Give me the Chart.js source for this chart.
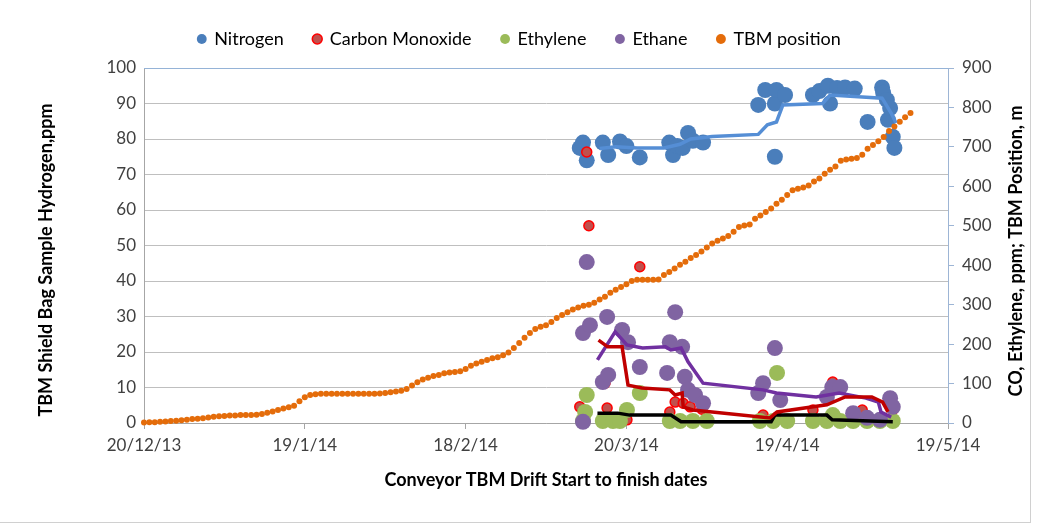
<!DOCTYPE html>
<html>
<head>
<meta charset="utf-8">
<script src="https://cdn.jsdelivr.net/npm/chart.js@4.4.1/dist/chart.umd.min.js"></script>
<style>
  body { margin: 0; background: #fff; }
  #wrap { position: relative; width: 1039px; height: 529px; }
  #frame { position: absolute; left: 0; top: 0; width: 1030px; height: 522px;
           border-right: 1px solid #d0d0d0; border-bottom: 1px solid #d0d0d0; pointer-events: none; }
</style>
</head>
<body>
<div id="wrap">
  <canvas id="gasChart" width="1039" height="529"></canvas>
  <div id="frame"></div>
</div>
<script>
// x values are days after 20/12/13
const n2Days = [81.3, 81.9, 82.6, 85.6, 86.6, 88.8, 90, 92.5, 98, 98.7, 99.5, 100.5, 101.5, 102.4, 104.3,
  114.6, 115.9, 117.7, 117.7, 118, 119.6, 124.8, 126, 127.6, 128, 129.3, 130.8, 132.6, 135, 137.7, 137.9,
  138.6, 138.8, 139.2, 139.7, 140];
const n2Ppm = [77.5, 79, 74, 79, 75.5, 79.3, 78, 74.8, 79, 75.5, 78, 77.5, 81.7, 79.5, 79,
  89.6, 93.8, 75, 90, 93.8, 92.4, 92.4, 93.5, 95, 90, 94.4, 94.5, 94.2, 84.8, 94.5, 93,
  91, 85.4, 88.7, 80.6, 77.5];

const coDays = [81.3, 82.6, 83, 86, 86.4, 90.1, 92.5, 98.1, 99.1, 100.6, 101.9, 104.1, 115.5, 118.1,
  124.8, 128.5, 129.9, 134, 139.7];
const coPpm = [41, 687, 500, 101, 38, 8, 396, 28, 53, 50, 41, 35, 20, 15, 33, 104, 89, 33, 33];

const ethyleneDays = [82.6, 82.3, 81.9, 85.6, 87.5, 88.8, 90.1, 92.5, 98.1, 100, 102.4, 105, 114.9, 117.4,
  118.1, 120, 124.8, 127.4, 128.5, 129.9, 132.3, 134.9, 137.3, 139.7];
const ethylenePpm = [71, 28, 5, 5, 5, 5, 33, 76, 5, 5, 5, 5, 5, 5, 127, 5, 5, 5, 20, 5, 5, 5, 5, 5];

const ethaneDays = [82.6, 81.9, 83.2, 86.4, 89.2, 90.3, 92.5, 85.6, 86.6, 81.9, 99.1, 98.1, 100.4, 97.6,
  100.9, 101.5, 102.8, 104.3, 117.7, 115.5, 114.6, 118.7, 127.4, 128.4, 129.9, 132.3, 134.9, 137.3,
  139.2, 139.7];
const ethanePpm = [408, 228, 248, 269, 236, 205, 142, 104, 122, 3, 281, 205, 193, 127, 117, 84, 71, 50,
  190, 101, 76, 58, 66, 91, 91, 25, 13, 8, 63, 41];

// TBM position, m, one reading per day from 20/12/13
const tbmPos = [1, 2, 2, 3, 4, 5, 6, 7, 8, 10, 11, 12, 14, 16, 17, 18, 19, 19, 20, 20,
  20, 21, 23, 26, 29, 33, 37, 40, 44, 55, 65, 71, 73, 74, 74, 74, 74, 74, 74, 74,
  74, 74, 74, 74, 75, 76, 78, 80, 82, 86, 95, 103, 110, 115, 119, 122, 126, 128, 129, 131,
  137, 145, 151, 155, 160, 164, 167, 172, 179, 190, 203, 216, 228, 238, 244, 248, 256, 266, 274, 281,
  288, 293, 297, 300, 305, 313, 320, 330, 338, 345, 352, 360, 363, 363, 363, 363, 364, 375, 383, 392,
  401, 409, 418, 426, 435, 445, 455, 462, 468, 474, 485, 497, 501, 503, 518, 526, 535, 544, 556, 566,
  578, 590, 594, 597, 602, 612, 620, 632, 642, 650, 665, 668, 670, 672, 680, 695, 705, 714, 725, 740,
  752, 764, 775, 786];

// moving-average trend lines as drawn on the chart
const n2TrendDays = [85, 88, 92, 97, 100, 102, 106, 114.6, 116.3, 118, 119.2, 126.6, 128, 134, 137.7, 139.4, 140.3];
const n2Trend = [77.3, 77.8, 77.5, 77.5, 78.5, 80, 80.7, 81.3, 84, 84.8, 89.6, 90, 92.4, 91.8, 91.5, 87.3, 84.5];
const coTrendDays = [84.8, 86.5, 89.2, 90.3, 92.9, 98.1, 99.1, 100.4, 100.6, 102.4, 116.8, 118.1, 127.4, 130.8, 135.8, 137.8, 138.8];
const coTrend = [210, 193, 193, 96, 89, 84, 71, 76, 41, 33, 13, 28, 46, 66, 66, 53, 28];
const ethaneTrendDays = [84.6, 87.9, 90.1, 93, 97.3, 98.3, 100.2, 101.5, 104.3, 115.5, 118, 125.4, 129.7, 134.7, 137, 137.5, 139.4];
const ethaneTrend = [160, 231, 198, 190, 193, 185, 190, 155, 101, 84, 76, 66, 76, 63, 53, 28, 15];
const ethyleneTrendDays = [84.6, 88.4, 90.6, 98.3, 100.2, 117, 117.7, 127.4, 128.4, 139.7];
const ethyleneTrend = [25, 25, 20, 20, 3, 3, 20, 20, 8, 3];

const xTicks = [0, 30, 60, 90, 120, 150];

const FONT = "Lato, 'Open Sans', sans-serif";
const startDate = Date.UTC(2013, 11, 20);

function dayLabel(v) {
  const d = new Date(startDate + v * 86400000);
  return d.getUTCDate() + "/" + (d.getUTCMonth() + 1) + "/" + String(d.getUTCFullYear()).slice(2);
}

function pts(xs, ys) {
  return xs.map((x, i) => ({ x: x, y: ys[i] }));
}

function dots(label, data, color, r, axis, order, border, bw) {
  return {
    label: label, data: data, yAxisID: axis, order: order, clip: false,
    backgroundColor: color, borderColor: border || color, borderWidth: bw || 0,
    pointRadius: r, pointHoverRadius: r, showLine: false
  };
}

function trend(data, color, axis) {
  return {
    label: "trend", trend: true, data: data, yAxisID: axis, order: 0, clip: false,
    showLine: true, borderColor: color, borderWidth: 3.5, pointRadius: 0, fill: false
  };
}

function vText(ctx, text, x, y) {
  ctx.save();
  ctx.translate(x, y);
  ctx.rotate(-Math.PI / 2);
  ctx.font = "bold 18px " + FONT;
  ctx.fillStyle = "#000";
  ctx.textAlign = "center";
  ctx.textBaseline = "middle";
  ctx.fillText(text, 0, 0);
  ctx.restore();
}

// axis titles that read bottom to top on both sides
const sideTitles = {
  id: "sideTitles",
  afterDraw(chart) {
    const { ctx } = chart;
    vText(ctx, "TBM Shield Bag Sample Hydrogen,ppm", 46, 260);
    vText(ctx, "CO, Ethylene, ppm; TBM Position, m", 1016, 251);
  }
};

// make the legend box tall enough that the plot starts at y = 68
const legendHeight = {
  id: "legendHeight",
  afterInit(chart) {
    const lg = chart.legend;
    const fit = lg.fit;
    lg.fit = function () { fit.call(this); this.height = 68; };
  }
};

const topEdge = {
  id: "topEdge",
  beforeDatasetsDraw(chart) {
    const { ctx, chartArea } = chart;
    ctx.save();
    ctx.strokeStyle = "#95B3D7";
    ctx.lineWidth = 1;
    ctx.beginPath();
    ctx.moveTo(chartArea.left, chartArea.top + 0.5);
    ctx.lineTo(chartArea.right, chartArea.top + 0.5);
    ctx.stroke();
    ctx.restore();
  }
};

new Chart(document.getElementById("gasChart"), {
  type: "scatter",
  data: {
    datasets: [
      dots("Nitrogen", pts(n2Days, n2Ppm), "#4A7EBB", 8, "y", 6),
      dots("Carbon Monoxide", pts(coDays, coPpm), "#C0504D", 5, "y1", 5, "#FF0000", 1.5),
      dots("Ethylene", pts(ethyleneDays, ethylenePpm), "#9BBB59", 8, "y1", 4),
      dots("Ethane", pts(ethaneDays, ethanePpm), "#8064A2", 8, "y1", 3),
      dots("TBM position", tbmPos.map((v, i) => ({ x: i, y: v })), "#E46C0A", 3, "y1", 2),
      trend(pts(n2TrendDays, n2Trend), "#558ED5", "y"),
      trend(pts(coTrendDays, coTrend), "#C00000", "y1"),
      trend(pts(ethaneTrendDays, ethaneTrend), "#7030A0", "y1"),
      trend(pts(ethyleneTrendDays, ethyleneTrend), "#000000", "y1")
    ]
  },
  options: {
    responsive: false,
    animation: false,
    layout: { padding: { top: 0, left: 0, right: 0, bottom: 0 } },
    plugins: {
      tooltip: { enabled: false },
      legend: {
        position: "top",
        labels: {
          usePointStyle: true,
          pointStyle: "circle",
          boxWidth: 7,
          boxHeight: 7,
          padding: 30,
          color: "#000",
          font: { family: FONT, size: 18 },
          filter: (item, data) => !data.datasets[item.datasetIndex].trend,
          sort: (a, b) => a.datasetIndex - b.datasetIndex
        }
      }
    },
    scales: {
      x: {
        type: "linear",
        min: 0, max: 150,
        afterBuildTicks: (s) => { s.ticks = xTicks.map(v => ({ value: v })); },
        afterFit: (s) => { s.height = 106; },
        ticks: { callback: (v) => dayLabel(v), color: "#404040", padding: 6, maxRotation: 0,
                 font: { family: FONT, size: 17 } },
        grid: { drawOnChartArea: false, tickLength: 6, color: "#A6A6A6" },
        border: { color: "#A6A6A6" },
        title: { display: true, text: "Conveyor TBM Drift Start to finish dates", color: "#000",
                 font: { family: FONT, size: 18, weight: "bold" }, padding: { top: 0, bottom: 38 } }
      },
      y: {
        position: "left",
        min: 0, max: 100,
        ticks: { stepSize: 10, color: "#404040", padding: 8, font: { family: FONT, size: 17 } },
        afterFit: (s) => { s.width = 144; },
        grid: { color: "#BFBFBF", drawTicks: false },
        border: { color: "#A6A6A6" }
      },
      y1: {
        position: "right",
        min: 0, max: 900,
        ticks: { stepSize: 100, color: "#404040", padding: 8, font: { family: FONT, size: 17 } },
        afterFit: (s) => { s.width = 91; },
        grid: { drawOnChartArea: false, tickLength: 6, color: "#9DB5D5" },
        border: { color: "#9DB5D5" }
      }
    }
  },
  plugins: [legendHeight, sideTitles, topEdge]
});
</script>
</body>
</html>
